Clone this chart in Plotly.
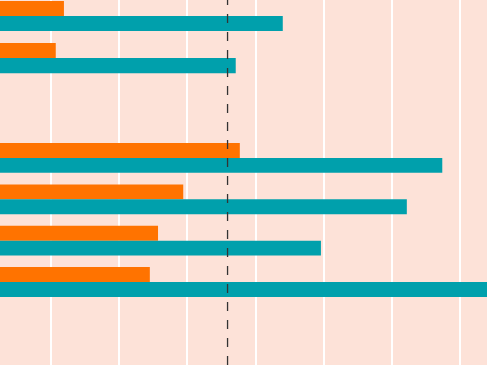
import plotly.graph_objects as go

# Data
top_categories = ["A", "B"]
top_orange = [11.9, 10.7]
top_teal = [44.0, 37.1]

bottom_categories = ["C", "D", "E", "F"]
bottom_orange = [37.7, 29.4, 25.7, 24.5]
bottom_teal = [67.4, 62.2, 49.6, 78.0]

reference_value = 35.9

ORANGE = "#FF7300"
TEAL = "#00A0AC"
BG = "#FDE2D8"

fig = go.Figure()
fig.add_trace(go.Bar(y=top_categories, x=top_orange, orientation="h",
                     marker=dict(color=ORANGE, line=dict(width=0)),
                     xaxis="x", yaxis="y", showlegend=False))
fig.add_trace(go.Bar(y=top_categories, x=top_teal, orientation="h",
                     marker=dict(color=TEAL, line=dict(width=0)),
                     xaxis="x", yaxis="y", showlegend=False))
fig.add_trace(go.Bar(y=bottom_categories, x=bottom_orange, orientation="h",
                     marker=dict(color=ORANGE, line=dict(width=0)),
                     xaxis="x2", yaxis="y2", showlegend=False))
fig.add_trace(go.Bar(y=bottom_categories, x=bottom_teal, orientation="h",
                     marker=dict(color=TEAL, line=dict(width=0)),
                     xaxis="x2", yaxis="y2", showlegend=False))

H = 365.0
split = 1 - 120 / H
xr = [2.52, 73.96]
xcommon = dict(range=xr, showgrid=True, gridcolor="white", gridwidth=2,
               tick0=0, dtick=10, showticklabels=False, zeroline=False,
               showline=False, ticks="")

fig.update_layout(
    width=487, height=365,
    margin=dict(l=0, r=0, t=0, b=0),
    paper_bgcolor=BG, plot_bgcolor=BG,
    barmode="group", bargap=0.28, bargroupgap=0,
    xaxis=dict(domain=[0, 1], anchor="y", **xcommon),
    xaxis2=dict(domain=[0, 1], anchor="y2", **xcommon),
    yaxis=dict(domain=[split, 1], anchor="x", type="category",
               range=[2.476, -0.381], showticklabels=False, showgrid=False,
               zeroline=False, ticks=""),
    yaxis2=dict(domain=[0, split], anchor="x2", type="category",
                range=[5.008, -0.919], showticklabels=False, showgrid=False,
                zeroline=False, ticks=""),
)

fig.add_shape(type="line", xref="x", yref="paper",
              x0=reference_value, x1=reference_value, y0=0, y1=1,
              line=dict(color="#333333", width=1.3, dash="dash"),
              layer="above")

fig.write_html(
    "out.html",
    config={"displayModeBar": False},
    post_script="document.body.style.margin='0';document.body.style.background='#FDE2D8';",
)
